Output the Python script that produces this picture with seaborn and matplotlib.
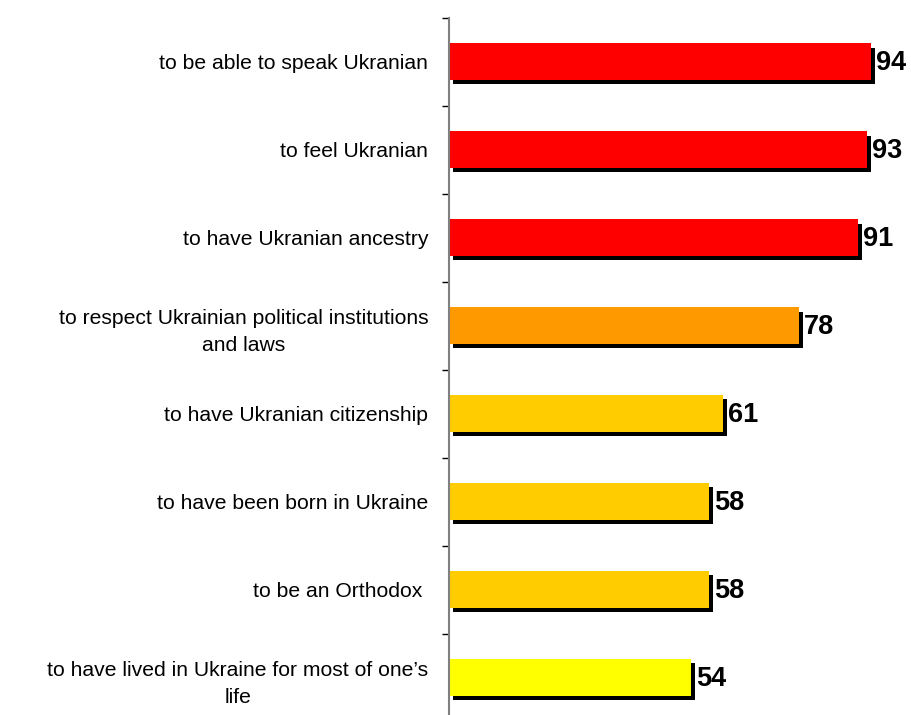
import matplotlib
matplotlib.use("Agg")
import matplotlib.pyplot as plt
import matplotlib.patheffects as pe
import seaborn as sns
import pandas as pd

categories = [
    "to be able to speak Ukranian",
    "to feel Ukranian",
    "to have Ukranian ancestry",
    "to respect Ukrainian political institutions\nand laws",
    "to have Ukranian citizenship",
    "to have been born in Ukraine",
    "to be an Orthodox ",
    "to have lived in Ukraine for most of one\u2019s\nlife",
]
values = [94, 93, 91, 78, 61, 58, 58, 54]
colors = ["#FF0000", "#FF0000", "#FF0000", "#FF9900",
          "#FFCC00", "#FFCC00", "#FFCC00", "#FFFF00"]

df = pd.DataFrame({"category": categories, "value": values})

sns.set_style("white")
plt.rcParams["font.family"] = ["Liberation Sans", "DejaVu Sans"]
plt.rcParams["text.color"] = "black"
plt.rcParams["ytick.color"] = "black"
plt.rcParams["ytick.labelcolor"] = "black"

fig = plt.figure(figsize=(9.11, 7.15), dpi=100)
ax = fig.add_axes([449 / 911, -0.0091, 449 / 911, 0.9846])

sns.barplot(data=df, y="category", x="value", hue="category",
            palette=colors, width=0.41, legend=False, ax=ax,
            saturation=1, linewidth=0)

shadow = [pe.SimplePatchShadow(offset=(2.9, -2.9), shadow_rgbFace="black",
                               alpha=1.0), pe.Normal()]
for p in ax.patches:
    p.set_path_effects(shadow)

for i, v in enumerate(values):
    ax.annotate(str(v), xy=(v, i), xytext=(3.6, -1.2), textcoords="offset points",
                ha="left", va="center", fontsize=19.5, fontweight="bold",
                color="black")

ax.set_xlim(0, 100)
ax.set_ylim(len(categories) - 0.5, -0.5)
ax.set_xlabel("")
ax.set_ylabel("")
ax.set_xticks([])

ax.set_yticks(range(len(categories)))
ax.set_yticklabels(categories, fontsize=15.2, color="black")
for lab in ax.get_yticklabels():
    lab.set_multialignment("center")
    lab.set_linespacing(1.55)
ax.set_yticks([i - 0.5 for i in range(len(categories) + 1)], minor=True)
ax.tick_params(axis="y", which="major", length=0, pad=15)
ax.tick_params(axis="y", which="minor", length=5, width=1, color="black",
               direction="out", left=True)

for s in ["top", "right", "bottom"]:
    ax.spines[s].set_visible(False)
ax.spines["left"].set_color("#808080")
ax.spines["left"].set_linewidth(1.5)

fig.savefig("out.png", dpi=100)
